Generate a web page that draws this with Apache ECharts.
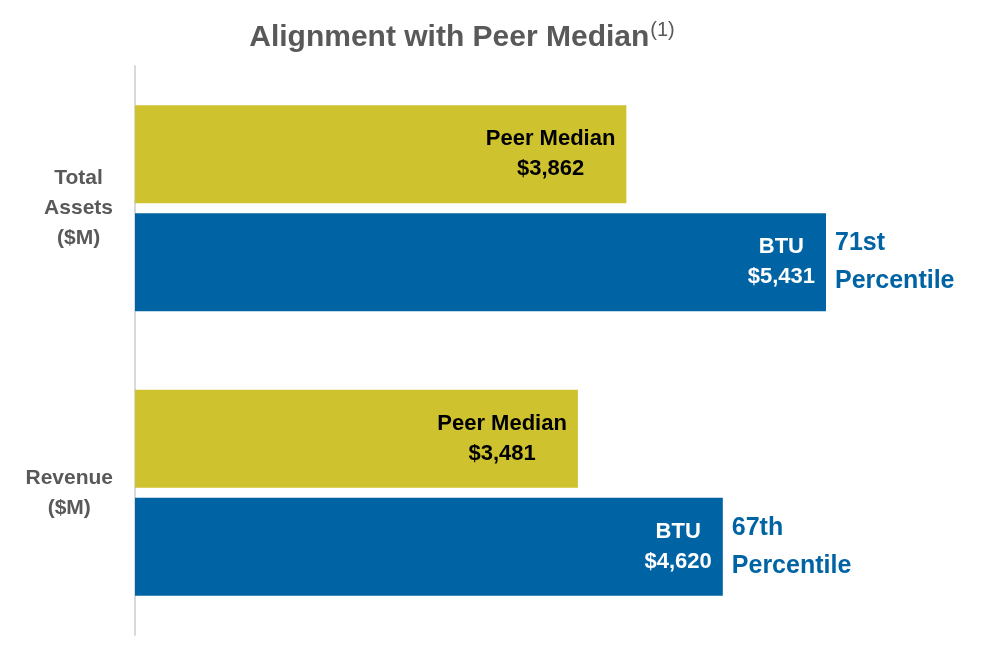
<!DOCTYPE html>
<html>
<head>
<meta charset="utf-8">
<script src="https://cdn.jsdelivr.net/npm/echarts@6/dist/echarts.min.js"></script>
<style>html,body{margin:0;padding:0;background:#fff}#c{width:1007px;height:670px}</style>
</head>
<body>
<div id="c"></div>
<script>
const categories = ['Total\nAssets\n($M)', 'Revenue\n($M)'];
const peerMedian = [3862, 3481];
const btu = [5431, 4620];
const percentiles = ['71st\nPercentile', '67th\nPercentile'];
const titleText = 'Alignment with Peer Median';
const titleNote = '(1)';

const FONT = '"Liberation Sans", Arial, sans-serif';
const YELLOW = '#CFC22F';
const BLUE = '#0063A3';
const GRAY = '#595959';

function fmtMoney(v){ return '$' + v.toLocaleString('en-US'); }
function richLines(text, key){ return text.split('\n').map(l => '{' + key + '|' + l + '}').join('\n'); }

const chart = echarts.init(document.getElementById('c'), null, {renderer: 'canvas'});
chart.setOption({
  animation: false,
  backgroundColor: '#ffffff',
  title: {
    text: '{t|' + titleText + '}{s|' + titleNote + '}',
    left: 457,
    textAlign: 'center',
    top: 15,
    textStyle: {
      rich: {
        t: {fontFamily: FONT, fontSize: 30, fontWeight: 'bold', color: GRAY, lineHeight: 36},
        s: {fontFamily: FONT, fontSize: 20, fontWeight: 'normal', color: GRAY, lineHeight: 22, verticalAlign: 'top', padding: [0, 0, 0, 1]}
      }
    }
  },
  grid: {left: 135, right: 45, top: 66, bottom: 35, containLabel: false},
  xAxis: {
    type: 'value', min: 0, max: 6500,
    show: false,
    splitLine: {show: false}
  },
  yAxis: {
    type: 'category',
    data: categories,
    inverse: true,
    axisLine: {show: true, lineStyle: {color: '#D9D9D9', width: 2}},
    axisTick: {show: false},
    axisLabel: {
      align: 'right',
      margin: 22,
      formatter: v => richLines(v, 'a'),
      rich: {a: {align: 'center', fontFamily: FONT, fontSize: 21, fontWeight: 'bold', color: GRAY, lineHeight: 30}}
    }
  },
  series: [
    {
      name: 'Peer Median', type: 'bar', data: peerMedian,
      barWidth: 98,
      itemStyle: {color: YELLOW},
      label: {
        show: true, position: 'insideRight', distance: 11,
        formatter: p => '{a|Peer Median}\n{a|' + fmtMoney(p.value) + '}',
        rich: {a: {align: 'center', fontFamily: FONT, fontSize: 22, fontWeight: 'bold', color: '#000000', lineHeight: 30}}
      }
    },
    {
      name: 'BTU', type: 'bar', data: btu, stack: 'btu',
      barWidth: 98,
      itemStyle: {color: BLUE},
      label: {
        show: true, position: 'insideRight', distance: 11,
        formatter: p => '{a|BTU}\n{a|' + fmtMoney(p.value) + '}',
        rich: {a: {align: 'center', fontFamily: FONT, fontSize: 22, fontWeight: 'bold', color: '#ffffff', lineHeight: 30}}
      }
    },
    {
      name: 'Percentile', type: 'bar', data: percentiles.map(() => 0), stack: 'btu',
      barWidth: 98, barGap: '10%',
      itemStyle: {color: 'rgba(0,0,0,0)'},
      label: {
        show: true, position: 'right', distance: 9,
        formatter: p => percentiles[p.dataIndex],
        fontFamily: FONT, fontSize: 25, fontWeight: 'bold', color: BLUE, lineHeight: 38, align: 'left'
      }
    }
  ]
});
</script>
</body>
</html>
